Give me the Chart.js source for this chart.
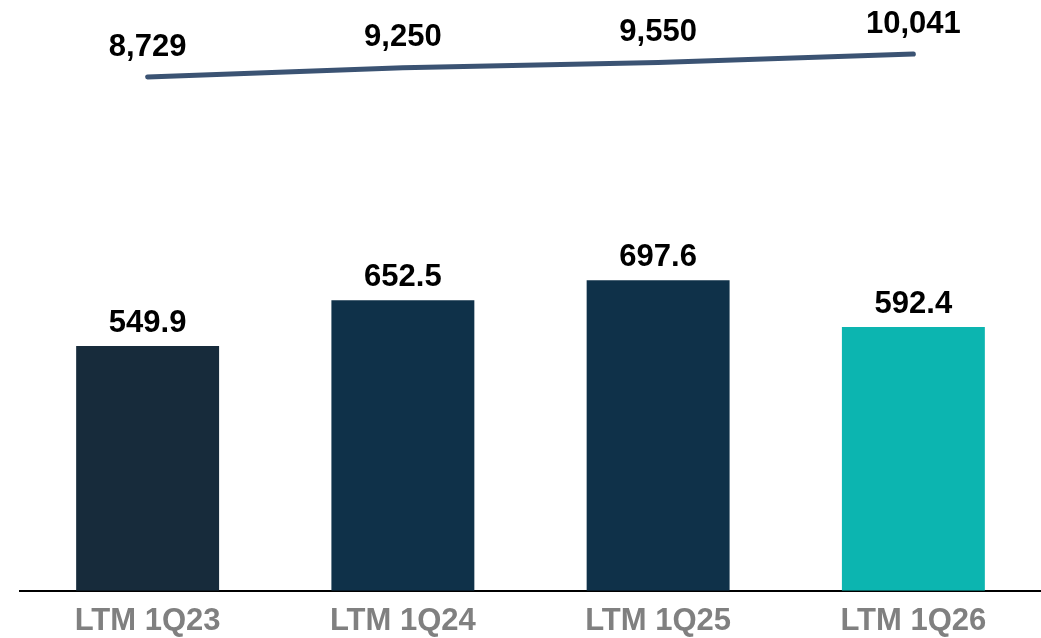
<!DOCTYPE html>
<html>
<head>
<meta charset="utf-8">
<script src="https://cdn.jsdelivr.net/npm/chart.js@4/dist/chart.umd.min.js"></script>
<style>
  html, body { margin: 0; padding: 0; background: #fff; }
  #wrap { width: 1041px; height: 638px; position: relative; }
</style>
</head>
<body>
<div id="wrap"><canvas id="chart"></canvas></div>
<script>
// --- Data ---
const categories = ['LTM 1Q23', 'LTM 1Q24', 'LTM 1Q25', 'LTM 1Q26'];
const barValues = [549.9, 652.5, 697.6, 592.4];
const lineValues = [8729, 9250, 9550, 10041];
const barColors = ['#172b3b', '#0f3149', '#0f3149', '#0cb5b0'];

// draws the value labels above bars and line points
const valueLabels = {
    id: 'valueLabels',
    afterDatasetsDraw(chart) {
        const ctx = chart.ctx;
        ctx.save();
        ctx.fillStyle = '#000';
        ctx.font = 'bold 31px "Liberation Sans", Arial, sans-serif';
        ctx.textAlign = 'center';
        ctx.textBaseline = 'middle';
        chart.data.datasets.forEach((ds, i) => {
            const meta = chart.getDatasetMeta(i);
            meta.data.forEach((el, j) => {
                const v = ds.data[j];
                const txt = ds.type === 'line'
                    ? v.toLocaleString('en-US')
                    : v.toFixed(1);
                const off = ds.type === 'line' ? 30 : 23;
                ctx.fillText(txt, el.x, el.y - off);
            });
        });
        ctx.restore();
    }
};

const ctx = document.getElementById('chart').getContext('2d');
new Chart(ctx, {
    data: {
        labels: categories,
        datasets: [
            {
                type: 'line',
                data: lineValues,
                yAxisID: 'y2',
                borderColor: '#3b5373',
                borderWidth: 5,
                borderCapStyle: 'round',
                pointRadius: 0,
                tension: 0,
                order: 0
            },
            {
                type: 'bar',
                data: barValues,
                yAxisID: 'y',
                backgroundColor: barColors,
                barPercentage: 0.56,
                categoryPercentage: 1,
                order: 1
            }
        ]
    },
    options: {
        responsive: true,
        maintainAspectRatio: false,
        animation: false,
        layout: { padding: { left: 20, right: 0, top: 0, bottom: -14 } },
        plugins: {
            legend: { display: false },
            tooltip: { enabled: false }
        },
        scales: {
            x: {
                grid: { display: false, drawTicks: false },
                border: { color: '#000', width: 2 },
                ticks: {
                    color: '#808080',
                    padding: 12,
                    font: { family: '"Liberation Sans", Arial, sans-serif', size: 31, weight: 'bold' }
                }
            },
            y: {
                display: false,
                min: 0,
                max: 1327
            },
            y2: {
                display: false,
                min: -20593,
                max: 13121
            }
        }
    },
    plugins: [valueLabels]
});
</script>
</body>
</html>
